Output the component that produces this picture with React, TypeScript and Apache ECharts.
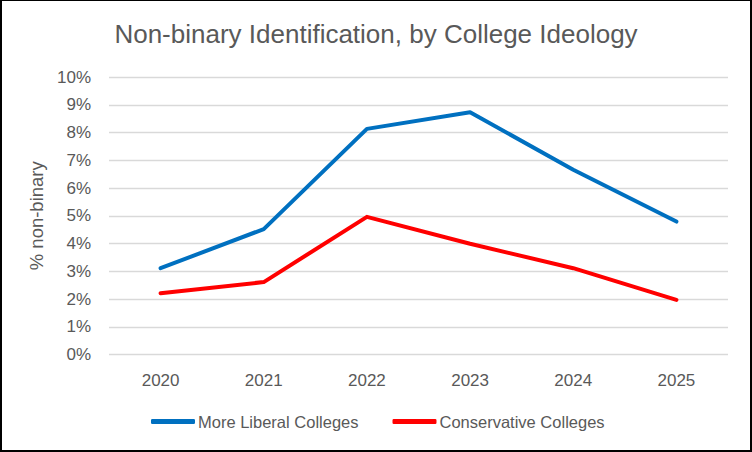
import React, { useEffect, useRef } from "react";
import * as echarts from "echarts";

const years = ["2020", "2021", "2022", "2023", "2024", "2025"];
const liberal = [3.11, 4.52, 8.13, 8.73, 6.66, 4.79];
const conservative = [2.21, 2.61, 4.96, 3.99, 3.11, 1.97];
const seriesNames = ["More Liberal Colleges", "Conservative Colleges"];
const titleText = "Non-binary Identification, by College Ideology";
const yAxisName = "% non-binary";

const FONT = "'Liberation Sans', Arial, sans-serif";
const GREY = "#595959";

export default function App() {
  const ref = useRef<HTMLDivElement>(null);
  useEffect(() => {
    document.body.style.margin = "0";
    const chart = echarts.init(ref.current!, undefined, { renderer: "svg" });
    chart.setOption({
      animation: false,
      backgroundColor: "#ffffff",
      title: {
        text: titleText,
        left: "center",
        top: 16,
        textStyle: { fontFamily: FONT, fontSize: 26, fontWeight: "normal", color: GREY },
      },
      legend: {
        left: 146,
        top: 408,
        itemGap: 34,
        itemWidth: 44,
        itemHeight: 5,
        icon: "roundRect",
        textStyle: { fontFamily: FONT, fontSize: 16.5, color: GREY, padding: [0, 0, 0, -2] },
        data: seriesNames,
      },
      grid: { left: 109, right: 24, top: 77, bottom: 97.5, containLabel: false },
      xAxis: {
        type: "category",
        data: years,
        boundaryGap: true,
        axisLine: { show: false },
        axisTick: { show: false },
        axisLabel: { fontFamily: FONT, fontSize: 17, color: GREY, margin: 17 },
      },
      yAxis: {
        type: "value",
        min: 0,
        max: 10,
        interval: 1,
        name: yAxisName,
        nameLocation: "middle",
        nameGap: 57,
        nameTextStyle: { fontFamily: FONT, fontSize: 18.5, color: GREY },
        axisLine: { show: false },
        axisTick: { show: false },
        axisLabel: { fontFamily: FONT, fontSize: 17, color: GREY, margin: 18, formatter: "{value}%" },
        splitLine: { lineStyle: { color: "#D9D9D9", width: 1.3 } },
      },
      series: [
        {
          name: seriesNames[0],
          type: "line",
          data: liberal,
          symbol: "none",
          color: "#0070C0",
          lineStyle: { width: 4, color: "#0070C0", cap: "round", join: "round" },
        },
        {
          name: seriesNames[1],
          type: "line",
          data: conservative,
          symbol: "none",
          color: "#FF0000",
          lineStyle: { width: 4, color: "#FF0000", cap: "round", join: "round" },
        },
      ],
    });
    return () => chart.dispose();
  }, []);
  return (
    <div style={{ position: "absolute", left: 0, top: 0, width: 752, height: 452, background: "#fff" }}>
      <div ref={ref} style={{ position: "absolute", left: 0, top: 0, width: 752, height: 452 }} />
      <div
        style={{
          position: "absolute",
          left: 0,
          top: 0,
          width: 752,
          height: 452,
          boxSizing: "border-box",
          borderStyle: "solid",
          borderColor: "#000",
          borderWidth: "1px 2px 2px 2px",
          pointerEvents: "none",
        }}
      />
    </div>
  );
}
